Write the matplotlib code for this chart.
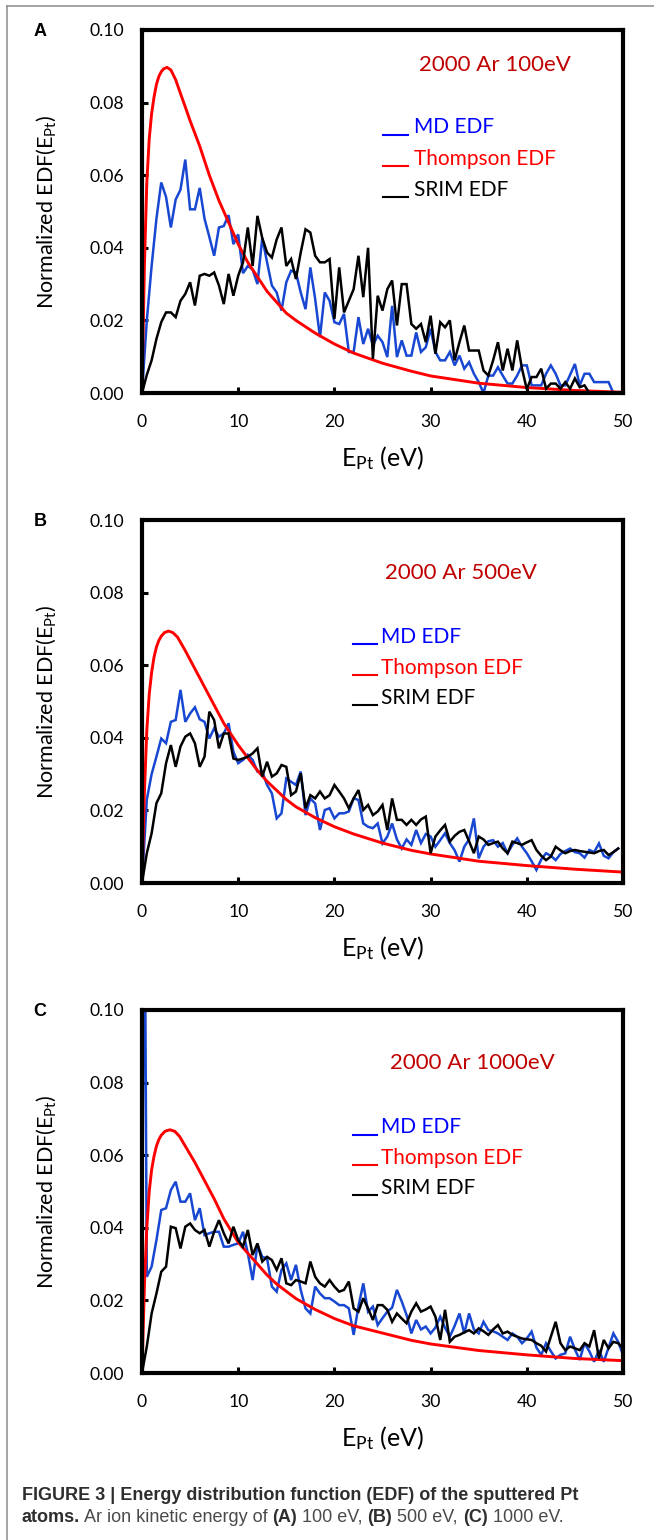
import numpy as np
import matplotlib
matplotlib.use('Agg')
import matplotlib.pyplot as plt
from matplotlib import font_manager
from matplotlib.lines import Line2D
from matplotlib.ticker import FormatStrFormatter

# ---------------- data ----------------
# Panel A : 2000 Ar 100 eV  (bins of 0.5 eV starting at 0)
md_a = [0.0, 0.020, 0.035, 0.048, 0.058, 0.054, 0.0456, 0.0533, 0.056, 0.0643,
        0.0506, 0.0506, 0.0565, 0.048, 0.043, 0.0378, 0.0456, 0.046, 0.049, 0.041,
        0.0437, 0.033, 0.035, 0.034, 0.030, 0.0427, 0.036, 0.0296, 0.0277, 0.0227,
        0.0305, 0.0337, 0.0332, 0.0277, 0.0231, 0.0346, 0.0259, 0.0154, 0.0277, 0.0254,
        0.0195, 0.019, 0.0218, 0.0113, 0.0113, 0.0209, 0.0135, 0.0177, 0.0131, 0.0158,
        0.014, 0.0099, 0.024, 0.0099, 0.0145, 0.0103, 0.0103, 0.0167, 0.0113, 0.0126,
        0.0177, 0.0113, 0.009, 0.009, 0.0113, 0.0076, 0.0103, 0.0067, 0.0085, 0.0053,
        0.003, 0.0, 0.0048, 0.0048, 0.0071, 0.0048, 0.0026, 0.0026, 0.0048, 0.0076,
        0.0076, 0.0021, 0.0021, 0.0021, 0.0053, 0.0076, 0.0053, 0.0021, 0.0021, 0.005,
        0.008, 0.0021, 0.0053, 0.0053, 0.003, 0.003, 0.003, 0.003, 0.0]
srim_a = [0.0, 0.005, 0.009, 0.0149, 0.0195, 0.0222, 0.0222, 0.0209, 0.0254, 0.0273,
          0.0305, 0.0241, 0.0323, 0.0328, 0.0323, 0.0332, 0.0296, 0.0245, 0.0328, 0.0268,
          0.0323, 0.036, 0.0456, 0.035, 0.0488, 0.0427, 0.0387, 0.0373, 0.0423, 0.0456,
          0.035, 0.0369, 0.0314, 0.0387, 0.0451, 0.0442, 0.0378, 0.036, 0.036, 0.0369,
          0.0204, 0.0346, 0.0222, 0.0254, 0.0286, 0.0378, 0.0264, 0.040, 0.0094, 0.0268,
          0.0227, 0.0286, 0.031, 0.0186, 0.030, 0.030, 0.019, 0.0177, 0.019, 0.014,
          0.0213, 0.0108, 0.0195, 0.0181, 0.020, 0.009, 0.014, 0.0186, 0.0117, 0.0117,
          0.0117, 0.0062, 0.0048, 0.009, 0.014, 0.0062, 0.0122, 0.0062, 0.0145, 0.0067,
          0.001, 0.0044, 0.0044, 0.0067, 0.0012, 0.0026, 0.0026, 0.0012, 0.003, 0.0012,
          0.004, 0.0016, 0.0021, 0.0]
th_a_x = [0, 0.25, 0.5, 0.75, 1.0, 1.25, 1.5, 1.75, 2.0, 2.25, 2.6, 3.0, 3.5, 4.0,
          4.5, 5.0, 5.5, 6.0, 7.0, 8.0, 9.0, 10, 11, 12, 13, 14, 15, 16, 18, 20, 22,
          25, 28, 30, 35, 40, 45, 50]
th_a_y = [0.0, 0.035, 0.058, 0.070, 0.077, 0.0815, 0.085, 0.0872, 0.0885, 0.0893,
          0.0897, 0.089, 0.0863, 0.0825, 0.0788, 0.075, 0.0715, 0.068, 0.060, 0.053,
          0.047, 0.041, 0.036, 0.032, 0.028, 0.025, 0.022, 0.020, 0.0165, 0.0135,
          0.011, 0.0082, 0.006, 0.0047, 0.0027, 0.0015, 0.0007, 0.0002]

# Panel B : 2000 Ar 500 eV
md_b = [0.0, 0.023, 0.030, 0.0348, 0.0398, 0.0385, 0.0444, 0.0449, 0.0532, 0.0444,
        0.0467, 0.0484, 0.0451, 0.0444, 0.0398, 0.0426, 0.0403, 0.0412, 0.044, 0.0362,
        0.033, 0.0339, 0.0353, 0.0339, 0.0307, 0.0307, 0.027, 0.0247, 0.0178, 0.0192,
        0.0288, 0.0279, 0.027, 0.0307, 0.0187, 0.0233, 0.0219, 0.0146, 0.0201, 0.0206,
        0.0178, 0.0192, 0.0192, 0.0197, 0.0233, 0.0229, 0.0164, 0.0155, 0.0151, 0.0164,
        0.0109, 0.0128, 0.0164, 0.0120, 0.0095, 0.0120, 0.0105, 0.0146, 0.0110, 0.0135,
        0.0128, 0.0100, 0.0118, 0.0137, 0.0110, 0.0090, 0.0059, 0.0100, 0.0120, 0.0178,
        0.0068, 0.0100, 0.0115, 0.0118, 0.0100, 0.0110, 0.0082, 0.0105, 0.0123, 0.0100,
        0.0082, 0.0060, 0.0036, 0.0065, 0.0082, 0.0075, 0.0063, 0.0080, 0.0088, 0.0095,
        0.0085, 0.0082, 0.0070, 0.0091, 0.0085, 0.0109, 0.0075, 0.0068, 0.0085, 0.0095]
srim_b = [0.0, 0.0082, 0.0137, 0.022, 0.0247, 0.033, 0.038, 0.032, 0.0376, 0.0403,
          0.0412, 0.0385, 0.032, 0.0348, 0.0472, 0.0449, 0.0371, 0.0412, 0.0412, 0.0343,
          0.0339, 0.0343, 0.0348, 0.0357, 0.0371, 0.0293, 0.0334, 0.0293, 0.0302, 0.0325,
          0.032, 0.0242, 0.0252, 0.0302, 0.0206, 0.0242, 0.0233, 0.0252, 0.0233, 0.0242,
          0.027, 0.0252, 0.0233, 0.0206, 0.0233, 0.0256, 0.0201, 0.0215, 0.0187, 0.0197,
          0.0215, 0.0146, 0.0233, 0.0174, 0.0174, 0.0160, 0.0174, 0.0160, 0.0175, 0.0183,
          0.0082, 0.0128, 0.0145, 0.0160, 0.0114, 0.0130, 0.0141, 0.0146, 0.0115, 0.0082,
          0.0128, 0.0120, 0.0105, 0.0110, 0.0114, 0.0095, 0.0082, 0.0114, 0.0110, 0.0105,
          0.0112, 0.0118, 0.0091, 0.0075, 0.0063, 0.0073, 0.0100, 0.0090, 0.0082, 0.0088,
          0.0091, 0.0088, 0.0086, 0.0084, 0.0082, 0.0088, 0.0091, 0.0077, 0.0085, 0.0095]
th_b_x = [0, 0.25, 0.5, 0.75, 1.0, 1.25, 1.5, 1.75, 2.0, 2.35, 2.75, 3.2, 3.7, 4.5,
          5.5, 6.5, 7.5, 8.5, 10, 11, 12, 13, 14, 15, 16, 18, 20, 22, 25, 28, 30, 35,
          40, 45, 50]
th_b_y = [0.0, 0.025, 0.042, 0.052, 0.058, 0.0622, 0.065, 0.0668, 0.068, 0.069,
          0.0694, 0.0690, 0.0677, 0.064, 0.059, 0.054, 0.049, 0.044, 0.038, 0.0345,
          0.031, 0.028, 0.0255, 0.023, 0.021, 0.018, 0.0155, 0.0135, 0.011, 0.009,
          0.008, 0.006, 0.0048, 0.0038, 0.003]

# Panel C : 2000 Ar 1000 eV
md_c_x = [0.0, 0.25] + [0.5 * k for k in range(1, 101)]
md_c = [0.024, 0.15, 0.0265, 0.0293, 0.0366, 0.0449, 0.0454, 0.0504, 0.0527, 0.0472,
        0.0472, 0.0495, 0.0421, 0.0454, 0.038, 0.0385, 0.0389, 0.0389, 0.0348, 0.0348,
        0.0353, 0.0357, 0.0389, 0.033, 0.0256, 0.0353, 0.032, 0.0316, 0.0238, 0.0224,
        0.0284, 0.0302, 0.0256, 0.0298, 0.0229, 0.0178, 0.0164, 0.0238, 0.0219, 0.0206,
        0.0206, 0.0197, 0.0187, 0.0187, 0.0178, 0.0105, 0.0183, 0.0247, 0.0169, 0.0183,
        0.0132, 0.0151, 0.0169, 0.0180, 0.0229, 0.0197, 0.0160, 0.0109, 0.0146, 0.0120,
        0.0128, 0.0109, 0.0125, 0.0155, 0.0125, 0.0100, 0.0130, 0.0164, 0.0109, 0.0164,
        0.0120, 0.0109, 0.0141, 0.0118, 0.0115, 0.0109, 0.0100, 0.0091, 0.0109, 0.0100,
        0.0082, 0.0095, 0.0114, 0.0070, 0.0050, 0.0082, 0.0060, 0.0040, 0.0050, 0.0054,
        0.0100, 0.0065, 0.0036, 0.0082, 0.0060, 0.0031, 0.0063, 0.0031, 0.0070, 0.0109,
        0.0086, 0.005]
srim_c = [0.0, 0.0073, 0.0164, 0.0219, 0.0279, 0.0293, 0.0403, 0.0399, 0.0343, 0.0403,
          0.0412, 0.0394, 0.0385, 0.0394, 0.0348, 0.0389, 0.0421, 0.0385, 0.0357, 0.0403,
          0.0366, 0.0348, 0.0394, 0.0325, 0.0357, 0.0307, 0.032, 0.0311, 0.0284, 0.0316,
          0.0247, 0.0242, 0.0256, 0.0252, 0.0247, 0.0307, 0.0265, 0.0247, 0.0238, 0.0256,
          0.0238, 0.0224, 0.0229, 0.0252, 0.0178, 0.0169, 0.0206, 0.0178, 0.0146, 0.0187,
          0.0187, 0.0174, 0.0141, 0.0164, 0.0150, 0.0137, 0.0169, 0.0192, 0.0169, 0.0175,
          0.0183, 0.0155, 0.0091, 0.0174, 0.0086, 0.0100, 0.0105, 0.0112, 0.0118, 0.0109,
          0.0123, 0.0115, 0.0105, 0.0120, 0.0132, 0.0109, 0.0114, 0.0105, 0.0100, 0.0095,
          0.0093, 0.0091, 0.0082, 0.0075, 0.0059, 0.0100, 0.0141, 0.0082, 0.0063, 0.0073,
          0.0068, 0.0063, 0.0082, 0.0073, 0.0118, 0.0040, 0.0091, 0.0068, 0.0086, 0.0082,
          0.0068]
th_c_x = [0, 0.25, 0.5, 0.75, 1.0, 1.25, 1.5, 1.75, 2.0, 2.4, 2.9, 3.4, 3.9, 4.5,
          5.5, 6.5, 7.5, 8.5, 10, 11, 12, 13, 14, 15, 16, 18, 20, 22, 25, 28, 30, 35,
          40, 45, 50]
th_c_y = [0.0, 0.024, 0.040, 0.050, 0.056, 0.0597, 0.0625, 0.0643, 0.0655, 0.0666,
          0.067, 0.0666, 0.0652, 0.0625, 0.058, 0.053, 0.048, 0.0425, 0.036, 0.033,
          0.030, 0.027, 0.0245, 0.0225, 0.0205, 0.0175, 0.015, 0.013, 0.011, 0.009,
          0.008, 0.0062, 0.005, 0.004, 0.0034]

panel_letters = ['A', 'B', 'C']
run_titles = ['2000 Ar 100eV', '2000 Ar 500eV', '2000 Ar 1000eV']
legend_labels = ['MD EDF', 'Thompson EDF', 'SRIM EDF']
x_ticks = [0, 10, 20, 30, 40, 50]
y_ticks = [0.00, 0.02, 0.04, 0.06, 0.08, 0.10]

# ---------------- style ----------------
avail = {f.name for f in font_manager.fontManager.ttflist}
def pick(*names):
    for n in names:
        if n in avail:
            return n
    return 'DejaVu Sans'

MAIN = pick('Lato', 'Open Sans', 'DejaVu Sans')
NARROW = pick('Liberation Sans Narrow', 'Liberation Sans')
ARIAL = pick('Liberation Sans', 'DejaVu Sans')

plt.rcParams['font.family'] = [MAIN, 'DejaVu Sans']
plt.rcParams['mathtext.fontset'] = 'custom'
plt.rcParams['mathtext.rm'] = MAIN
plt.rcParams['mathtext.it'] = MAIN + ':italic'
plt.rcParams['mathtext.bf'] = MAIN + ':bold'

W, H = 654, 1540
fig = plt.figure(figsize=(W / 100, H / 100), dpi=100)

C_MD = '#1847D2'
C_TH = '#FF0000'
C_SR = '#000000'
legend_colors = ['#0000FF', '#FF0000', '#000000']

# axes frames in pixel coordinates (left, top, right, bottom)
frames = [(142, 30, 623, 393), (142, 520, 623, 883), (142, 1010, 623, 1373)]
title_pos = [(28.8, 0.0904), (25.3, 0.0854), (25.8, 0.0854)]
key_x = [(25.1, 27.7), (21.9, 24.4), (21.9, 24.4)]
text_x = [28.3, 24.8, 24.8]
key_y = [[0.0711, 0.0625, 0.0540], [0.0658, 0.0573, 0.0490], [0.0656, 0.0573, 0.0490]]

series = [
    (0.5 * np.arange(len(md_a)), md_a, th_a_x, th_a_y, 0.5 * np.arange(len(srim_a)), srim_a),
    (0.5 * np.arange(len(md_b)), md_b, th_b_x, th_b_y, 0.5 * np.arange(len(srim_b)), srim_b),
    (md_c_x, md_c, th_c_x, th_c_y, 0.5 * np.arange(len(srim_c)), srim_c),
]

for i, (l, t, r, b) in enumerate(frames):
    ax = fig.add_axes([l / W, 1 - b / H, (r - l) / W, (b - t) / H])
    mx, my, tx, ty, sx, sy = series[i]
    ax.plot(mx, my, color=C_MD, lw=1.8, solid_joinstyle='miter')
    ax.plot(tx, ty, color=C_TH, lw=2.1)
    ax.plot(sx, sy, color=C_SR, lw=1.8, solid_joinstyle='miter')
    ax.set_xlim(0, 50)
    ax.set_ylim(0, 0.10)
    ax.set_xticks(x_ticks)
    ax.set_yticks(y_ticks)
    ax.yaxis.set_major_formatter(FormatStrFormatter('%.2f'))
    for sp in ax.spines.values():
        sp.set_linewidth(3.0)
        sp.set_color('black')
    ax.tick_params(direction='in', length=4.5, width=2.2, labelsize=12.7,
                   colors='black')
    ax.tick_params(axis='y', pad=13)
    ax.tick_params(axis='x', pad=15)
    ax.set_ylabel(r'Normalized EDF(E$_\mathregular{Pt}$)', fontsize=15.5)
    ax.yaxis.set_label_coords(-0.199, 0.5)
    ax.yaxis.label.set_va('center')
    ax.set_xlabel(r'E$_\mathregular{Pt}$ (eV)', fontsize=18)
    ax.xaxis.set_label_coords(0.5, -0.179)
    ax.xaxis.label.set_va('center')

    ax.text(title_pos[i][0], title_pos[i][1], run_titles[i], color='#C00000',
            fontsize=16, ha='left', va='center')
    for j, lab in enumerate(legend_labels):
        ax.add_line(Line2D(key_x[i], [key_y[i][j], key_y[i][j]],
                           color=legend_colors[j], lw=1.5, clip_on=False))
        ax.text(text_x[i], key_y[i][j] + 0.0004, lab, color=legend_colors[j],
                fontsize=15, ha='left', va='baseline')

    fig.text(40 / W, 1 - (t + 1.7) / H, panel_letters[i], fontsize=13,
             fontweight='bold', family=[ARIAL, 'DejaVu Sans'],
             ha='center', va='center')

# frame lines of the figure box
fig.add_artist(Line2D([6.5 / W, 1.0], [1 - 6 / H, 1 - 6 / H], color='#8c8c8c',
                      lw=1.1, transform=fig.transFigure))
fig.add_artist(Line2D([7 / W, 7 / W], [0.0, 1 - 6 / H], color='#8c8c8c',
                      lw=1.1, transform=fig.transFigure))

# caption
cap_size = 12 if NARROW == 'Liberation Sans Narrow' else 13
fig.text(21.5 / W, 1 - 1496 / H,
         'FIGURE 3 | Energy distribution function (EDF) of the sputtered Pt',
         fontsize=cap_size, fontweight='bold', color='#2e2e2e',
         family=[NARROW, 'DejaVu Sans'], ha='left', va='center')

pieces = [('atoms.', 'bold'), (' Ar ion kinetic energy of ', 'normal'),
          ('(A)', 'bold'), (' 100 eV, ', 'normal'), ('(B)', 'bold'),
          (' 500 eV, ', 'normal'), ('(C)', 'bold'), (' 1000 eV.', 'normal')]
renderer = fig.canvas.get_renderer()
xpos = 21.5
for txt, wt in pieces:
    tt = fig.text(xpos / W, 1 - 1517 / H, txt, fontsize=cap_size, fontweight=wt,
                  color='#2e2e2e' if wt == 'bold' else '#4a4a4a',
                  family=[NARROW, 'DejaVu Sans'], ha='left', va='center')
    bb = tt.get_window_extent(renderer=renderer)
    xpos = bb.x1

fig.savefig('out.png', dpi=100)
